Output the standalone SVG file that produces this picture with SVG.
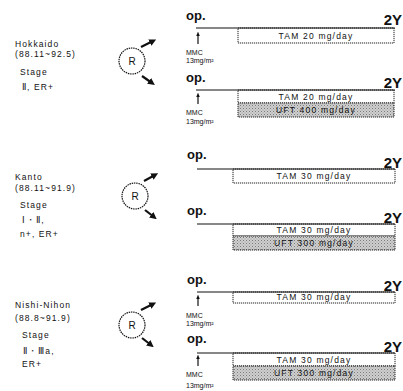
<svg xmlns="http://www.w3.org/2000/svg" width="403" height="391" viewBox="0 0 403 391">
<style>
text{font-family:"Liberation Sans",Arial,sans-serif;fill:#111}
.op{font-size:13px;font-weight:bold}
.y2{font-size:15px;font-weight:bold;text-anchor:end}
.lbl{font-size:8.5px;letter-spacing:1.1px}
.box{font-size:8.5px;letter-spacing:1.2px}
.mmc{font-size:7px}
.tl{stroke:#111;stroke-width:1.2;fill:none}
.bx{stroke:#222;stroke-width:1;stroke-dasharray:1.2 0.8;fill:#fff}
.sh{stroke:#222;stroke-width:1;stroke-dasharray:1.2 0.8;fill:url(#dots)}
.rc{stroke:#111;stroke-width:1.2;stroke-dasharray:1.5 0.8;fill:#fff}
.ar{stroke:#111;stroke-width:2.2;fill:none;marker-end:url(#ah)}
.up{stroke:#111;stroke-width:1.2;fill:none;marker-end:url(#uh)}
</style>
<defs>
<pattern id="dots" width="3" height="3" patternUnits="userSpaceOnUse">
<rect width="3" height="3" fill="#cfcfcf"/>
<rect width="1" height="1" fill="#7a7a7a"/>
<rect x="1.5" y="1.5" width="1" height="1" fill="#999"/>
</pattern>
<marker id="ah" viewBox="0 0 10 10" refX="5" refY="5" markerWidth="3.2" markerHeight="3.2" orient="auto">
<path d="M0,0 L10,5 L0,10 z" fill="#111"/>
</marker>
<marker id="uh" viewBox="0 0 10 10" refX="5" refY="5" markerWidth="4" markerHeight="4" orient="auto">
<path d="M0,1 L10,5 L0,9 z" fill="#111"/>
</marker>
</defs>

<g id="group-hokkaido">
<text class="lbl" x="15" y="47">Hokkaido</text>
<text class="lbl" x="15" y="57">(88.11~92.5)</text>
<text class="lbl" x="20" y="75">Stage</text>
<text class="lbl" x="22" y="90">Ⅱ, ER+</text>
</g>
<g id="rand-1">
<circle class="rc" cx="132" cy="61" r="13"/>
<text x="132" y="65" font-size="10" text-anchor="middle">R</text>
</g>

<g id="group-kanto">
<text class="lbl" x="15" y="180">Kanto</text>
<text class="lbl" x="15" y="191">(88.11~91.9)</text>
<text class="lbl" x="20" y="208">Stage</text>
<text class="lbl" x="22" y="223">Ⅰ・Ⅱ,</text>
<text class="lbl" x="20" y="237">n+, ER+</text>
</g>
<g id="rand-2">
<circle class="rc" cx="135" cy="196" r="13"/>
<text x="135" y="200" font-size="10" text-anchor="middle">R</text>
</g>

<g id="group-nishi">
<text class="lbl" x="15" y="308">Nishi-Nihon</text>
<text class="lbl" x="15" y="321">(88.8~91.9)</text>
<text class="lbl" x="22" y="338">Stage</text>
<text class="lbl" x="23" y="354">Ⅱ・Ⅲa,</text>
<text class="lbl" x="22" y="367">ER+</text>
</g>
<g id="rand-3">
<circle class="rc" cx="132" cy="325" r="13"/>
<text x="132" y="329" font-size="10" text-anchor="middle">R</text>
</g>

<g id="arm-1">
<text class="op" x="186" y="20">op.</text>
<text class="y2" x="402" y="25">2Y</text>
<rect class="bx" x="238" y="28" width="156" height="15"/>
<text class="box" x="316" y="39" text-anchor="middle">TAM 20 mg/day</text>
<text class="mmc" x="186" y="55">MMC</text>
<text class="mmc" x="186" y="63">13mg/m²</text>
</g>
<g id="arm-2">
<text class="op" x="186" y="82">op.</text>
<text class="y2" x="402" y="88">2Y</text>
<rect class="bx" x="238" y="90" width="156" height="13"/>
<rect class="sh" x="238" y="103" width="156" height="14"/>
<text class="box" x="316" y="100" text-anchor="middle">TAM 20 mg/day</text>
<text class="box" x="316" y="113" text-anchor="middle">UFT 400 mg/day</text>
<text class="mmc" x="186" y="115">MMC</text>
<text class="mmc" x="186" y="124">13mg/m²</text>
</g>
<g id="arm-3">
<text class="op" x="187" y="159">op.</text>
<text class="y2" x="402" y="168">2Y</text>
<rect class="bx" x="233" y="169" width="162" height="14"/>
<text class="box" x="314" y="179" text-anchor="middle">TAM 30 mg/day</text>
</g>
<g id="arm-4">
<text class="op" x="187" y="215">op.</text>
<text class="y2" x="402" y="223">2Y</text>
<rect class="bx" x="233" y="224" width="162" height="12"/>
<rect class="sh" x="233" y="236" width="162" height="14"/>
<text class="box" x="314" y="233" text-anchor="middle">TAM 30 mg/day</text>
<text class="box" x="314" y="246" text-anchor="middle">UFT 300 mg/day</text>
</g>
<g id="arm-5">
<text class="op" x="187" y="284">op.</text>
<text class="y2" x="402" y="291">2Y</text>
<rect class="bx" x="233" y="292" width="162" height="11"/>
<text class="box" x="314" y="300" text-anchor="middle">TAM 30 mg/day</text>
<text class="mmc" x="186" y="318">MMC</text>
<text class="mmc" x="186" y="326">13mg/m²</text>
</g>
<g id="arm-6">
<text class="op" x="187" y="343">op.</text>
<text class="y2" x="402" y="352">2Y</text>
<rect class="bx" x="233" y="353" width="162" height="13"/>
<rect class="sh" x="233" y="366" width="162" height="14"/>
<text class="box" x="314" y="363" text-anchor="middle">TAM 30 mg/day</text>
<text class="box" x="314" y="376" text-anchor="middle">UFT 300 mg/day</text>
<text class="mmc" x="186" y="377">MMC</text>
<text class="mmc" x="186" y="388">13mg/m²</text>
</g>

<g id="connectors">
<line class="tl" x1="196" y1="28" x2="395" y2="28"/>
<line class="tl" x1="196" y1="90" x2="395" y2="90"/>
<line class="tl" x1="197" y1="169" x2="395" y2="169"/>
<line class="tl" x1="197" y1="224" x2="395" y2="224"/>
<line class="tl" x1="197" y1="292" x2="395" y2="292"/>
<line class="tl" x1="197" y1="353" x2="395" y2="353"/>
<line class="up" x1="198" y1="44" x2="198" y2="34"/>
<line class="up" x1="198" y1="104" x2="198" y2="95"/>
<line class="up" x1="198" y1="306" x2="198" y2="297"/>
<line class="up" x1="198" y1="366" x2="198" y2="357"/>
<line class="ar" x1="141" y1="47" x2="153" y2="41"/>
<line class="ar" x1="142" y1="76" x2="152" y2="83"/>
<line class="ar" x1="144" y1="181" x2="155" y2="175"/>
<line class="ar" x1="145" y1="210" x2="154" y2="217"/>
<line class="ar" x1="141" y1="310" x2="153" y2="304"/>
<line class="ar" x1="142" y1="338" x2="151" y2="345"/>
</g>
</svg>
